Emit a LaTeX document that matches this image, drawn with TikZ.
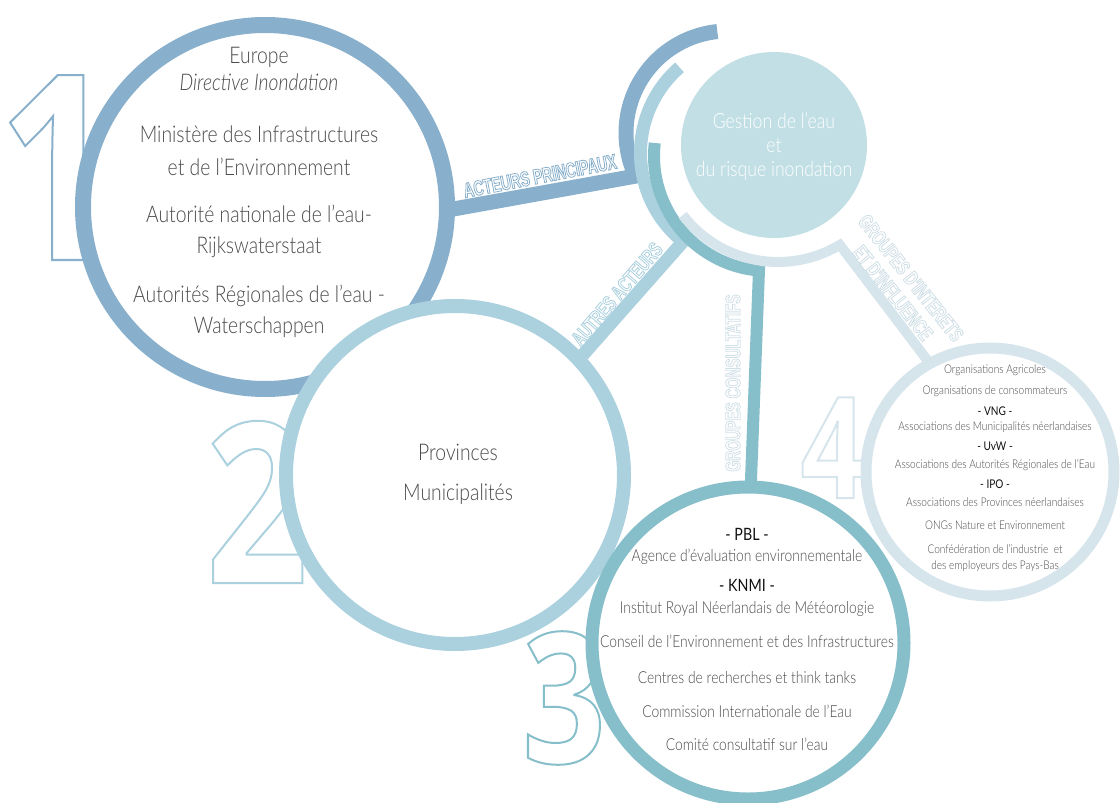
\documentclass[tikz,border=0pt]{standalone}
\usepackage{fontspec}
\setmainfont{Lato}[FakeStretch=0.84, UprightFont={* Light}, ItalicFont={* Light Italic}]
\newfontfamily\headfont{Lato}[FakeStretch=0.84]
\newfontfamily\lblfont{Liberation Sans}[FakeStretch=0.66]
\newfontfamily\numfont{Open Sans}[FakeStretch=0.8]
\definecolor{cA}{HTML}{88AFCB}
\definecolor{cB}{HTML}{ABD0DE}
\definecolor{cC}{HTML}{86BFCA}
\definecolor{cD}{HTML}{D6E5EC}
\definecolor{cE}{HTML}{CFDFE6}
\definecolor{cG}{HTML}{C1DFE4}
\definecolor{txt}{HTML}{4A4A4A}
\definecolor{txtd}{HTML}{111111}
% outlined (stroked, unfilled) text: colour, stroke width, text
\newcommand{\strokedtxt}[3]{{\color{#1}\special{pdf:literal direct #2 w 1 Tr}#3\special{pdf:literal direct 0 Tr}}}
\tikzset{
  ring/.style={circle, draw, fill=white, inner sep=0pt, outer sep=0pt},
  band/.style={line cap=butt, line join=miter},
  bigtxt/.style={anchor=base, inner sep=0pt, text=txt, font=\fontsize{23}{23}\selectfont},
  midtxt/.style={anchor=base, inner sep=0pt, text=txt, font=\fontsize{16.5}{16.5}\selectfont},
  midhead/.style={midtxt, text=txtd, font=\headfont\fontsize{17}{17}\selectfont},
  smalltxt/.style={anchor=base, inner sep=0pt, text=txt, font=\fontsize{12}{12}\selectfont},
  smallhead/.style={smalltxt, text=txtd, font=\headfont\fontsize{12}{12}\selectfont},
  gtxt/.style={anchor=base, inner sep=0pt, text=white, font=\fontsize{21}{21}\selectfont},
  lbl/.style={inner sep=0pt, font=\lblfont\bfseries\fontsize{21}{21}\selectfont},
  numeral/.style={anchor=base, inner sep=0pt, font=\numfont\bfseries},
}
\begin{document}
\begin{tikzpicture}[x=1pt,y=-1pt]
\useasboundingbox (0,0) rectangle (1120,803);
% big outlined numerals
\node[numeral, font=\numfont\bfseries\fontsize{259}{259}\selectfont] (n1) at (57,260) {\strokedtxt{cA}{2}{1}};
\node[numeral, font=\numfont\bfseries\fontsize{224}{224}\selectfont] (n2) at (257,583) {\strokedtxt{cB}{2}{2}};
\node[numeral, font=\numfont\bfseries\fontsize{182}{182}\selectfont] (n3) at (564,763) {\strokedtxt{cC}{2}{3}};
\node[numeral, font=\numfont\bfseries\fontsize{141}{141}\selectfont] (n4) at (833,498) {\strokedtxt{cD}{2}{4}};
% arc centres
\coordinate (kA) at (728,133);
\coordinate (kB) at (754,153);
\coordinate (kC) at (769,156);
\coordinate (kD) at (778,142);
% circle nodes (declared first for anchors, drawn later)
\path (265,207) node[ring, draw=none, fill=none, minimum size=364pt] (c1) {}
      (455,475) node[ring, draw=none, fill=none, minimum size=338pt] (c2) {}
      (748,643) node[ring, draw=none, fill=none, minimum size=312pt] (c3) {}
      (990,472) node[ring, draw=none, fill=none, minimum size=248pt] (c4) {};
% arcs and connectors
\draw[band, draw=cA, line width=15pt] ([shift={(264:102)}]kA) arc[start angle=264, end angle=155, radius=102] -- (c1.-1);
\draw[band, draw=cB, line width=13pt] ([shift={(229:113.5)}]kB) arc[start angle=229, end angle=128.7, radius=113.5] -- (c2.43);
\draw[band, draw=cC, line width=12pt] ([shift={(186.5:115)}]kC) arc[start angle=186.5, end angle=95, radius=115] -- (c3.89);
\draw[band, draw=cD, line width=10pt] ([shift={(142.5:120)}]kD) arc[start angle=142.5, end angle=59, radius=120] -- (c4.119);
% circles
\node[ring, draw=cA, line width=16pt, minimum size=364pt] (r1) at (c1) {};
\node[ring, draw=cB, line width=14pt, minimum size=338pt] (r2) at (c2) {};
\node[ring, draw=cC, line width=13pt, minimum size=312pt] (r3) at (c3) {};
\node[ring, draw=cD, line width=11pt, minimum size=248pt] (r4) at (c4) {};
\node[circle, fill=cG, inner sep=0pt, minimum size=186pt] (g) at (774,145) {};
% connector labels
\node[lbl, rotate=11] (l1) at (540,176) {\strokedtxt{cA}{0.8}{ACTEURS PRINCIPAUX}};
\node[lbl, rotate=49.5] (l2) at (617,294) {\strokedtxt{cB}{0.8}{AUTRES ACTEURS}};
\node[lbl, rotate=90] (l3) at (733,383) {\strokedtxt{cE}{0.8}{GROUPES CONSULTATIFS}};
\node[lbl, rotate=-51.5] (l4a) at (911,278) {\strokedtxt{cE}{0.8}{GROUPES D'INTERETS}};
\node[lbl, rotate=-51.5] (l4b) at (893,293) {\strokedtxt{cE}{0.8}{ET D'INFLUENCE}};
% centre text
\node[gtxt] (g1) at (774,128) {Gestion de l’eau};
\node[gtxt] (g2) at (774,152) {et};
\node[gtxt] (g3) at (774,176) {du risque inondation};
% circle 1
\node[bigtxt] (a1) at (259,63) {Europe};
\node[bigtxt] (a2) at (259,90) {\itshape Directive Inondation};
\node[bigtxt] (a3) at (259,142) {Ministère des Infrastructures};
\node[bigtxt] (a4) at (259,175) {et de l’Environnement};
\node[bigtxt] (a5) at (259,222) {Autorité nationale de l’eau-};
\node[bigtxt] (a6) at (259,253) {Rijkswaterstaat};
\node[bigtxt] (a7) at (259,302) {Autorités Régionales de l’eau -};
\node[bigtxt] (a8) at (259,333) {Waterschappen};
% circle 2
\node[bigtxt] (b1) at (458,460) {Provinces};
\node[bigtxt] (b2) at (458,500) {Municipalités};
% circle 3
\node[midhead] (d1) at (747,540) {- PBL -};
\node[midtxt] (d2) at (747,561) {Agence d’évaluation environnementale};
\node[midhead] (d3) at (747,591) {- KNMI -};
\node[midtxt] (d4) at (747,613) {Institut Royal Néerlandais de Météorologie};
\node[midtxt] (d5) at (747,647) {Conseil de l’Environnement et des Infrastructures};
\node[midtxt] (d6) at (747,683) {Centres de recherches et think tanks};
\node[midtxt] (d7) at (747,717) {Commission Internationale de l’Eau};
\node[midtxt] (d8) at (747,750) {Comité consultatif sur l’eau};
% circle 4
\node[smalltxt] (e1) at (995,373) {Organisations Agricoles};
\node[smalltxt] (e2) at (995,394) {Organisations de consommateurs};
\node[smallhead] (e3) at (995,415) {- VNG -};
\node[smalltxt] (e4) at (995,430) {Associations des Municipalités néerlandaises};
\node[smallhead] (e5) at (995,450) {- UvW -};
\node[smalltxt] (e6) at (995,468) {Associations des Autorités Régionales de l’Eau};
\node[smallhead] (e7) at (995,488) {- IPO -};
\node[smalltxt] (e8) at (995,506) {Associations des Provinces néerlandaises};
\node[smalltxt] (e9) at (995,529) {ONGs Nature et Environnement};
\node[smalltxt] (e10) at (995,553) {Confédération de l’industrie\ \ et};
\node[smalltxt] (e11) at (995,569) {des employeurs des Pays-Bas};
\end{tikzpicture}
\end{document}
